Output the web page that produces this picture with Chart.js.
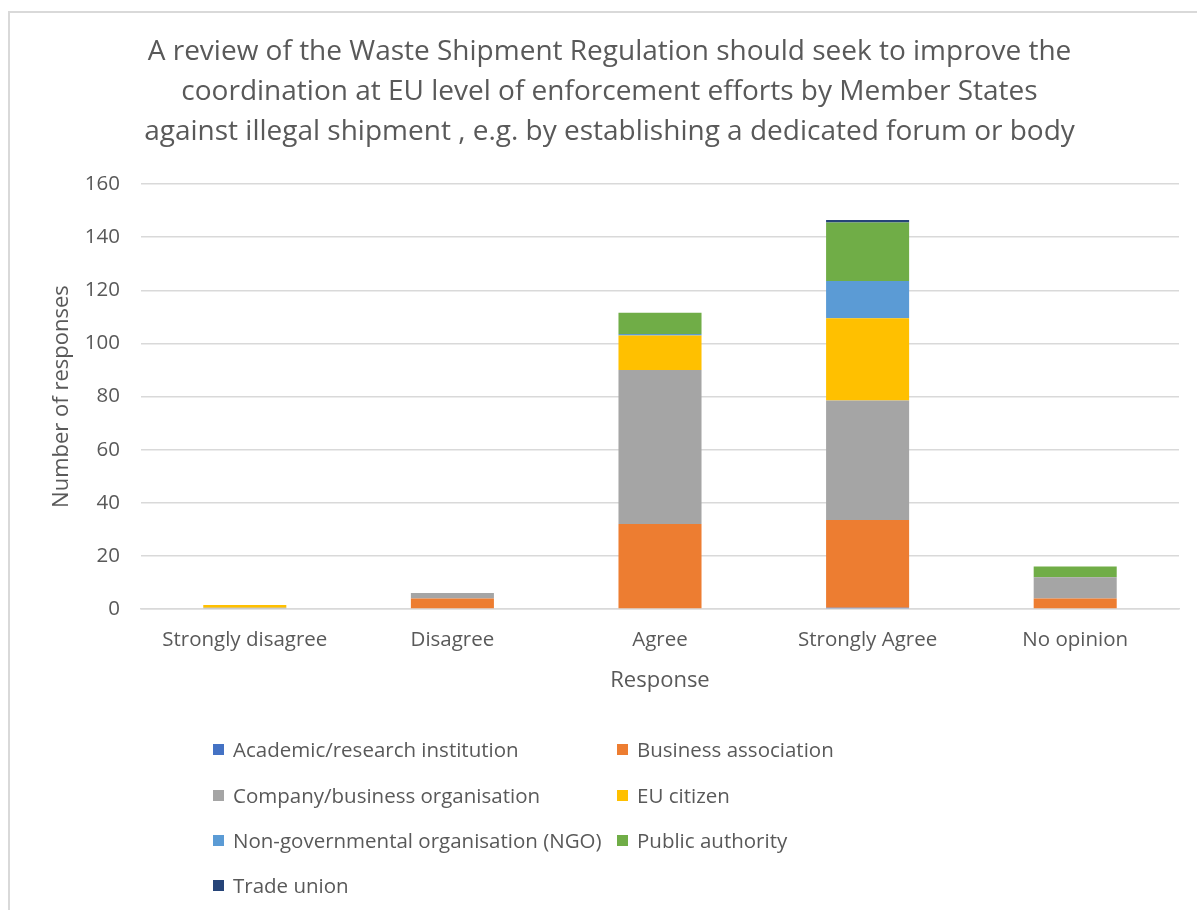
<!DOCTYPE html>
<html>
<head>
<meta charset="utf-8">
<script src="https://cdn.jsdelivr.net/npm/chart.js@4/dist/chart.umd.min.js"></script>
<style>
  html, body { margin: 0; padding: 0; background: #fff; overflow: hidden; }
  #wrap { position: relative; width: 1197px; height: 910px; }
  #frame { position: absolute; left: 8px; top: 11px; width: 1400px; height: 1200px; border: 2px solid #d9d9d9; box-sizing: border-box; pointer-events: none; }
  canvas { position: absolute; left: 0; top: 0; }
  #legend { position: absolute; left: 0; top: 0; width: 1197px; height: 910px; pointer-events: none; font-family: "Open Sans", sans-serif; font-size: 20.5px; color: #595959; }
  .li { position: absolute; white-space: nowrap; display: flex; align-items: center; height: 28px; }
  .sw { width: 11px; height: 11px; margin-right: 9px; display: inline-block; }
</style>
</head>
<body>
<div id="wrap">
  <canvas id="c" width="1197" height="910"></canvas>
  <div id="frame"></div>
  <div id="legend"></div>
</div>
<script>
const titleLines = [
  "A review of the Waste Shipment Regulation should seek to improve the",
  "coordination at EU level of enforcement efforts by Member States",
  "against illegal shipment , e.g. by establishing a dedicated forum or body"
];
const categories = ["Strongly disagree", "Disagree", "Agree", "Strongly Agree", "No opinion"];
const seriesNames = [
  "Academic/research institution",
  "Business association",
  "Company/business organisation",
  "EU citizen",
  "Non-governmental organisation (NGO)",
  "Public authority",
  "Trade union"
];
const academic = [0, 0, 0, 0.5, 0];
const businessAssociation = [0, 4, 32, 33, 4];
const company = [0.5, 2, 58, 45, 8];
const euCitizen = [1, 0, 13, 31, 0];
const ngo = [0, 0, 0.6, 14, 0];
const publicAuthority = [0, 0, 8, 22, 4];
const tradeUnion = [0, 0, 0, 1, 0];
const yTicks = [0, 20, 40, 60, 80, 100, 120, 140, 160];

const seriesValues = [academic, businessAssociation, company, euCitizen, ngo, publicAuthority, tradeUnion];
const colors = ["#4472C4", "#ED7D31", "#A5A5A5", "#FFC000", "#5B9BD5", "#70AD47", "#264478"];

const textColor = "#595959";
const fontFam = "'Open Sans', sans-serif";

const datasets = seriesNames.map((n, i) => ({
  label: n,
  data: seriesValues[i],
  backgroundColor: colors[i],
  borderWidth: 0,
  categoryPercentage: 1.0,
  barPercentage: 0.4
}));

new Chart(document.getElementById("c"), {
  type: "bar",
  data: { labels: categories, datasets },
  options: {
    responsive: false,
    animation: false,
    devicePixelRatio: 1,
    layout: { padding: { left: 40, right: 18, top: 0, bottom: 201 } },
    plugins: {
      legend: { display: false },
      tooltip: { enabled: false },
      title: {
        display: true,
        text: titleLines,
        color: textColor,
        font: { family: fontFam, size: 28, weight: "normal", lineHeight: 1.43 },
        padding: { top: 32, bottom: 32 }
      }
    },
    scales: {
      x: {
        stacked: true,
        grid: { display: false, drawTicks: false },
        border: { display: true, color: "#d9d9d9", width: 1.5 },
        ticks: { color: textColor, font: { family: fontFam, size: 20.5 }, padding: 19, maxRotation: 0 },
        title: { display: true, text: "Response", color: textColor, font: { family: fontFam, size: 22, lineHeight: 1.2 }, padding: { top: 0, bottom: 15 } },
        afterFit(s) { s.height = 100; }
      },
      y: {
        stacked: true,
        min: 0, max: 160,
        afterBuildTicks(s) { s.ticks = yTicks.map(v => ({ value: v })); },
        grid: { color: "#d9d9d9", lineWidth: 1.5, drawTicks: false },
        border: { display: false },
        ticks: { color: textColor, font: { family: fontFam, size: 20.5 }, padding: 21 },
        title: { display: true, text: "Number of responses", color: textColor, font: { family: fontFam, size: 22, lineHeight: 1.2 }, padding: { top: 9, bottom: 0 } },
        afterFit(s) { s.width = 101; }
      }
    }
  }
});

// HTML legend (two columns, as in reference)
const legend = document.getElementById("legend");
const colX = [213, 617];
const rowY = [749, 795, 840, 885];
seriesNames.forEach((n, i) => {
  const d = document.createElement("div");
  d.className = "li";
  d.style.left = colX[i % 2] + "px";
  d.style.top = (rowY[Math.floor(i / 2)] - 14) + "px";
  const sw = document.createElement("span");
  sw.className = "sw";
  sw.style.background = colors[i];
  d.appendChild(sw);
  d.appendChild(document.createTextNode(n));
  legend.appendChild(d);
});
</script>
</body>
</html>
